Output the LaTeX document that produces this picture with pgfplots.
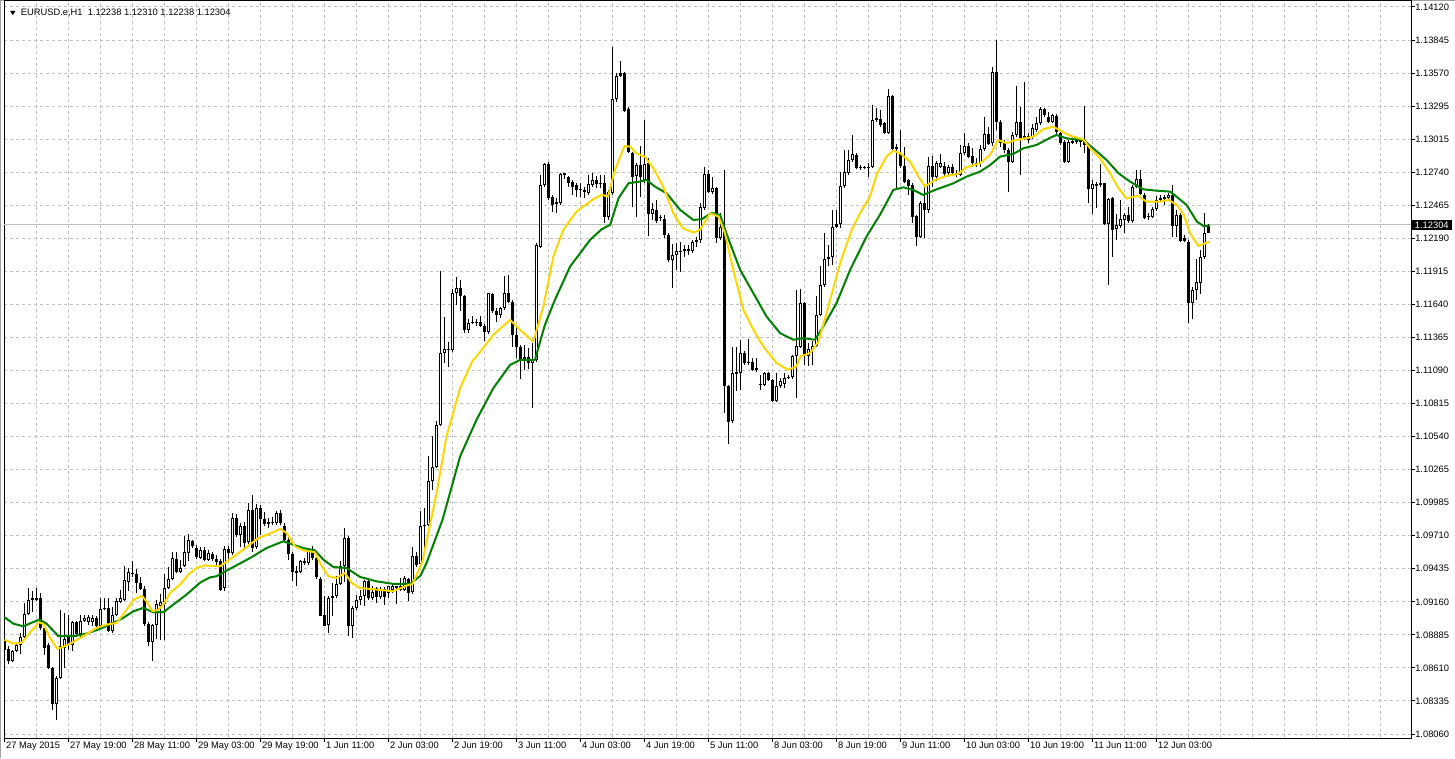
\documentclass[border=0pt]{standalone}
\usepackage{pgfplots}
\pgfplotsset{compat=1.18}
\usepackage{pgfplotstable}
\usepackage{fontspec}
\setmainfont{Liberation Sans}
\definecolor{maYellow}{HTML}{FFD700}
\definecolor{maGreen}{HTML}{008000}
\definecolor{gridgray}{HTML}{C0C0C0}
\definecolor{framegray}{HTML}{A0A0A0}

% bullish candles (white body)
\pgfplotstableread{
i O H L C
2 1.08670 1.08760 1.08660 1.08750
3 1.08750 1.08820 1.08740 1.08800
4 1.08800 1.08900 1.08730 1.08870
5 1.08870 1.09150 1.08860 1.09060
6 1.09060 1.09280 1.09050 1.09180
13 1.08310 1.08540 1.08180 1.08530
14 1.08530 1.09096 1.08520 1.08790
15 1.08780 1.09070 1.08610 1.08850
17 1.08800 1.09000 1.08750 1.08990
19 1.08890 1.09050 1.08870 1.09000
20 1.09000 1.09050 1.08990 1.09030
21 1.08990 1.09050 1.08970 1.09036
22 1.08990 1.09050 1.08958 1.09030
24 1.08960 1.09190 1.08940 1.09105
27 1.08920 1.09120 1.08900 1.09050
28 1.09050 1.09190 1.09040 1.09165
29 1.09160 1.09260 1.09150 1.09190
30 1.09180 1.09460 1.09170 1.09340
31 1.09330 1.09440 1.09250 1.09410
37 1.08830 1.08980 1.08670 1.08970
38 1.08970 1.09180 1.08850 1.09140
39 1.09130 1.09230 1.08840 1.09160
40 1.09140 1.09390 1.08840 1.09280
41 1.09280 1.09450 1.09270 1.09350
42 1.09350 1.09580 1.09340 1.09527
44 1.09410 1.09510 1.09400 1.09443
45 1.09460 1.09707 1.09450 1.09574
46 1.09570 1.09727 1.09500 1.09680
49 1.09530 1.09620 1.09520 1.09596
51 1.09510 1.09590 1.09500 1.09568
55 1.09280 1.09625 1.09250 1.09600
57 1.09570 1.09900 1.09550 1.09860
59 1.09720 1.09820 1.09620 1.09790
61 1.09660 1.09985 1.09640 1.09930
63 1.09620 1.09980 1.09600 1.09940
68 1.09820 1.09916 1.09800 1.09900
74 1.09410 1.09510 1.09400 1.09500
76 1.09486 1.09610 1.09470 1.09597
81 1.08970 1.09210 1.08900 1.09194
83 1.09208 1.09375 1.09190 1.09314
84 1.09310 1.09500 1.09300 1.09464
85 1.09460 1.09780 1.09330 1.09690
87 1.08958 1.09130 1.08860 1.09110
88 1.09110 1.09220 1.09097 1.09175
89 1.09175 1.09260 1.09139 1.09214
90 1.09208 1.09347 1.09125 1.09333
92 1.09194 1.09290 1.09180 1.09241
94 1.09203 1.09286 1.09186 1.09269
96 1.09236 1.09297 1.09194 1.09291
97 1.09264 1.09305 1.09236 1.09297
100 1.09264 1.09375 1.09250 1.09358
102 1.09240 1.09620 1.09230 1.09540
104 1.09479 1.09915 1.09460 1.09796
106 1.09804 1.10374 1.09790 1.10165
107 1.10165 1.10546 1.10096 1.10285
108 1.10285 1.10665 1.10276 1.10637
109 1.10637 1.11920 1.10624 1.11240
110 1.11240 1.11540 1.11150 1.11268
112 1.11262 1.11768 1.11248 1.11734
113 1.11734 1.11868 1.11637 1.11776
116 1.11429 1.11518 1.11401 1.11490
121 1.11407 1.11740 1.11396 1.11734
124 1.11554 1.11623 1.11526 1.11609
125 1.11609 1.11879 1.11595 1.11734
132 1.11151 1.11318 1.10776 1.11179
133 1.11180 1.12150 1.11160 1.12137
134 1.12123 1.12720 1.12110 1.12637
135 1.12637 1.12823 1.12620 1.12812
139 1.12490 1.12740 1.12470 1.12726
146 1.12573 1.12720 1.12554 1.12645
147 1.12637 1.12740 1.12623 1.12679
151 1.12373 1.12595 1.12345 1.12581
152 1.12573 1.13784 1.12554 1.13351
153 1.13351 1.13567 1.13331 1.13545
158 1.12712 1.12818 1.12373 1.12804
160 1.12680 1.13178 1.12650 1.12810
162 1.12395 1.12484 1.12345 1.12434
167 1.12012 1.12145 1.11776 1.12054
168 1.12054 1.12150 1.11930 1.12082
172 1.12082 1.12179 1.12068 1.12165
174 1.12179 1.12485 1.12151 1.12457
175 1.12443 1.12784 1.12429 1.12726
177 1.12582 1.12707 1.12560 1.12609
179 1.12193 1.12401 1.12179 1.12290
182 1.10666 1.11290 1.10650 1.11068
184 1.11068 1.11346 1.10930 1.11240
190 1.10971 1.11080 1.10960 1.11068
193 1.10832 1.11068 1.10824 1.10963
194 1.10963 1.11027 1.10943 1.10999
195 1.10979 1.11068 1.10943 1.11027
197 1.11032 1.11221 1.11019 1.11213
198 1.11213 1.11763 1.10860 1.11296
199 1.11290 1.11768 1.11276 1.11651
201 1.11207 1.11318 1.11130 1.11268
202 1.11263 1.11332 1.11138 1.11296
203 1.11296 1.11707 1.11290 1.11554
204 1.11554 1.11957 1.11546 1.11804
205 1.11804 1.12235 1.11785 1.12018
207 1.12040 1.12429 1.11971 1.12285
209 1.12312 1.12748 1.12276 1.12629
210 1.12629 1.12929 1.12609 1.12748
211 1.12740 1.12929 1.12721 1.12846
212 1.12846 1.13054 1.12832 1.12896
217 1.12784 1.13304 1.12776 1.13179
221 1.13073 1.13434 1.13065 1.13379
229 1.12206 1.12500 1.12192 1.12490
231 1.12428 1.12873 1.12406 1.12795
233 1.12700 1.12840 1.12670 1.12823
234 1.12790 1.12895 1.12780 1.12817
236 1.12734 1.12800 1.12720 1.12790
239 1.12720 1.12970 1.12710 1.12906
240 1.12906 1.13067 1.12890 1.12962
244 1.12817 1.12970 1.12790 1.12934
245 1.12934 1.13201 1.12923 1.13062
247 1.12984 1.13623 1.12962 1.13581
252 1.12831 1.13081 1.12817 1.13053
253 1.13053 1.13461 1.13040 1.13164
256 1.13012 1.13070 1.12990 1.13045
257 1.13039 1.13145 1.13020 1.13109
258 1.13095 1.13206 1.13080 1.13150
259 1.13150 1.13284 1.13140 1.13267
262 1.13164 1.13230 1.13150 1.13220
266 1.12831 1.13010 1.12820 1.12998
272 1.12600 1.12678 1.12395 1.12642
276 1.12312 1.12525 1.11803 1.12517
278 1.12267 1.12395 1.12178 1.12303
279 1.12295 1.12512 1.12280 1.12351
280 1.12345 1.12401 1.12234 1.12387
282 1.12337 1.12637 1.12320 1.12623
283 1.12623 1.12762 1.12610 1.12684
287 1.12373 1.12450 1.12360 1.12434
288 1.12434 1.12545 1.12420 1.12512
291 1.12525 1.12573 1.12510 1.12553
293 1.12295 1.12428 1.12206 1.12387
297 1.11651 1.11789 1.11517 1.11762
298 1.11762 1.12017 1.11679 1.11831
299 1.11817 1.12095 1.11728 1.12039
300 1.12039 1.12406 1.12020 1.12238
}\bull

% bearish and very small candles (filled body)
\pgfplotstableread{
i O H L C
0 1.08850 1.08890 1.08750 1.08760
1 1.08770 1.08790 1.08640 1.08670
7 1.09180 1.09250 1.09080 1.09190
8 1.09180 1.09280 1.09170 1.09190
9 1.09190 1.09235 1.08930 1.08940
10 1.08940 1.08960 1.08720 1.08780
11 1.08800 1.08820 1.08600 1.08610
12 1.08610 1.08620 1.08260 1.08310
16 1.08870 1.09050 1.08760 1.08800
18 1.08990 1.09000 1.08870 1.08890
23 1.09030 1.09040 1.08940 1.08960
25 1.09100 1.09190 1.09090 1.09110
26 1.09110 1.09190 1.08910 1.08920
32 1.09400 1.09500 1.09370 1.09390
33 1.09390 1.09435 1.09235 1.09320
34 1.09320 1.09370 1.09257 1.09270
35 1.09270 1.09290 1.08960 1.08980
36 1.08980 1.08990 1.08790 1.08830
43 1.09520 1.09575 1.09400 1.09410
47 1.09670 1.09680 1.09610 1.09624
48 1.09610 1.09638 1.09518 1.09532
50 1.09590 1.09620 1.09500 1.09513
52 1.09560 1.09580 1.09500 1.09520
53 1.09520 1.09550 1.09460 1.09490
54 1.09500 1.09520 1.09250 1.09260
56 1.09600 1.09630 1.09500 1.09570
58 1.09860 1.09890 1.09700 1.09720
60 1.09790 1.09830 1.09600 1.09650
62 1.09930 1.10055 1.09580 1.09610
64 1.09940 1.09970 1.09720 1.09850
65 1.09850 1.09910 1.09790 1.09810
66 1.09810 1.09860 1.09780 1.09830
67 1.09830 1.09870 1.09800 1.09820
69 1.09900 1.09930 1.09800 1.09820
70 1.09790 1.09820 1.09666 1.09680
71 1.09680 1.09700 1.09510 1.09564
72 1.09560 1.09580 1.09333 1.09410
73 1.09400 1.09460 1.09290 1.09416
75 1.09486 1.09527 1.09470 1.09500
77 1.09580 1.09625 1.09510 1.09527
78 1.09527 1.09540 1.09350 1.09370
79 1.09350 1.09370 1.09040 1.09047
80 1.09055 1.09208 1.08958 1.08964
82 1.09194 1.09320 1.09040 1.09208
86 1.09690 1.09710 1.08875 1.08958
91 1.09333 1.09350 1.09180 1.09194
93 1.09277 1.09286 1.09150 1.09203
95 1.09269 1.09286 1.09139 1.09203
98 1.09277 1.09297 1.09140 1.09297
99 1.09291 1.09360 1.09250 1.09264
101 1.09350 1.09360 1.09166 1.09236
103 1.09540 1.09580 1.09450 1.09470
105 1.09790 1.09940 1.09570 1.09804
111 1.11268 1.11330 1.11118 1.11262
114 1.11776 1.11845 1.11582 1.11712
115 1.11712 1.11720 1.11401 1.11429
117 1.11484 1.11545 1.11476 1.11498
118 1.11490 1.11518 1.11457 1.11498
119 1.11498 1.11545 1.11451 1.11457
120 1.11462 1.11479 1.11332 1.11407
122 1.11729 1.11740 1.11568 1.11582
123 1.11582 1.11609 1.11498 1.11554
126 1.11734 1.11887 1.11651 1.11665
127 1.11665 1.11679 1.11290 1.11387
128 1.11387 1.11457 1.11193 1.11284
129 1.11284 1.11304 1.11018 1.11179
130 1.11201 1.11304 1.11096 1.11179
131 1.11201 1.11276 1.11101 1.11151
136 1.12812 1.12831 1.12512 1.12526
137 1.12540 1.12554 1.12415 1.12470
138 1.12476 1.12526 1.12401 1.12498
140 1.12734 1.12740 1.12684 1.12720
141 1.12706 1.12712 1.12623 1.12656
142 1.12665 1.12679 1.12554 1.12623
143 1.12637 1.12651 1.12540 1.12595
144 1.12595 1.12650 1.12540 1.12600
145 1.12595 1.12623 1.12526 1.12581
148 1.12679 1.12712 1.12609 1.12645
149 1.12651 1.12720 1.12609 1.12656
150 1.12656 1.12720 1.12318 1.12373
154 1.13545 1.13673 1.13540 1.13567
155 1.13567 1.13581 1.13248 1.13256
156 1.13267 1.13290 1.12901 1.12915
157 1.12900 1.12915 1.12457 1.12706
159 1.12804 1.12962 1.12540 1.12706
161 1.12820 1.12860 1.12207 1.12395
163 1.12429 1.12512 1.12323 1.12332
164 1.12368 1.12387 1.12332 1.12359
165 1.12351 1.12387 1.12193 1.12221
166 1.12221 1.12234 1.11998 1.12007
169 1.12082 1.12165 1.11915 1.12090
170 1.12082 1.12137 1.12040 1.12101
171 1.12101 1.12137 1.12054 1.12082
173 1.12165 1.12200 1.12120 1.12180
176 1.12726 1.12762 1.12568 1.12582
178 1.12609 1.12623 1.12151 1.12193
180 1.12280 1.12760 1.10735 1.10957
181 1.10963 1.10970 1.10480 1.10657
183 1.11063 1.11290 1.10920 1.11074
185 1.11240 1.11250 1.11138 1.11152
186 1.11157 1.11352 1.11138 1.11152
187 1.11157 1.11193 1.11090 1.11096
188 1.11091 1.11193 1.11074 1.11110
189 1.10971 1.11054 1.10930 1.10979
191 1.11068 1.11080 1.11000 1.11013
192 1.11013 1.11020 1.10824 1.10832
196 1.11027 1.11054 1.11019 1.11040
200 1.11651 1.11657 1.11138 1.11207
206 1.12018 1.12137 1.11957 1.12040
208 1.12290 1.12429 1.12276 1.12312
213 1.12887 1.12901 1.12768 1.12776
214 1.12776 1.12804 1.12762 1.12784
215 1.12784 1.12795 1.12768 1.12790
216 1.12784 1.12818 1.12707 1.12790
218 1.13179 1.13276 1.13165 1.13193
219 1.13184 1.13262 1.13123 1.13137
220 1.13151 1.13165 1.13062 1.13073
222 1.13379 1.13387 1.12920 1.12934
223 1.12934 1.12980 1.12600 1.12956
224 1.12900 1.13095 1.12780 1.12795
225 1.12795 1.12956 1.12650 1.12664
226 1.12678 1.12690 1.12553 1.12628
227 1.12637 1.12650 1.12323 1.12373
228 1.12378 1.12390 1.12128 1.12206
230 1.12490 1.12623 1.12192 1.12428
232 1.12795 1.12878 1.12620 1.12700
235 1.12795 1.12831 1.12706 1.12728
237 1.12790 1.12810 1.12720 1.12734
238 1.12740 1.12762 1.12706 1.12728
241 1.12962 1.12984 1.12859 1.12867
242 1.12878 1.12942 1.12790 1.12823
243 1.12809 1.12859 1.12790 1.12823
246 1.13062 1.13117 1.12970 1.12978
248 1.13581 1.13845 1.13095 1.13164
249 1.13164 1.13178 1.12956 1.12984
250 1.12984 1.13012 1.12901 1.12928
251 1.12928 1.12942 1.12581 1.12831
254 1.13164 1.13289 1.12720 1.13025
255 1.13025 1.13498 1.13010 1.13045
260 1.13267 1.13280 1.13200 1.13220
261 1.13201 1.13248 1.13150 1.13164
263 1.13212 1.13230 1.13060 1.13081
264 1.13067 1.13080 1.12970 1.12989
265 1.12998 1.13011 1.12817 1.12831
267 1.12990 1.13025 1.12980 1.13006
268 1.13011 1.13025 1.12980 1.12998
269 1.12998 1.13030 1.12956 1.13017
270 1.13011 1.13295 1.12900 1.12970
271 1.12970 1.12984 1.12484 1.12600
273 1.12642 1.12664 1.12442 1.12631
274 1.12637 1.12812 1.12620 1.12650
275 1.12650 1.12656 1.12300 1.12312
277 1.12525 1.12539 1.12039 1.12262
281 1.12387 1.12456 1.12320 1.12337
284 1.12684 1.12762 1.12550 1.12562
285 1.12553 1.12569 1.12351 1.12359
286 1.12378 1.12400 1.12345 1.12367
289 1.12512 1.12550 1.12500 1.12525
290 1.12539 1.12550 1.12470 1.12517
292 1.12553 1.12637 1.12206 1.12295
294 1.12387 1.12401 1.12164 1.12173
295 1.12192 1.12220 1.12160 1.12173
296 1.12164 1.12178 1.11484 1.11651
301 1.12238 1.12310 1.12238 1.12304
}\filled

\pgfplotsset{
  wick/.style={draw=none, mark=none, forget plot,
    error bars/.cd, y dir=plus, y explicit, error mark=none,
    error bar style={draw=black, line width=0.75pt, line cap=butt}},
  body/.style={draw=none, mark=none, forget plot,
    error bars/.cd, y dir=plus, y explicit, error mark=none,
    error bar style={draw=black, line width=2.25pt, line cap=butt}},
  inner/.style={draw=none, mark=none, forget plot,
    error bars/.cd, y dir=plus, y explicit, error mark=none,
    error bar style={draw=white, line width=0.75pt, line cap=butt}},
}

\begin{document}
\begin{tikzpicture}
\fill[white] (0,0) rectangle (1091.25pt,568.5pt);
\path[use as bounding box] (0,0) rectangle (1091.25pt,568.5pt);
\draw[framegray, line width=0.75pt] (0.375pt,0) -- (0.375pt,568.5pt);
\draw[framegray, line width=0.75pt] (0,568.1pt) -- (1091.25pt,568.1pt);
\begin{axis}[
  at={(3pt,15pt)}, anchor=south west,
  scale only axis, width=1055.25pt, height=552.75pt,
  xmin=-0.125, xmax=351.625, ymin=1.080267, ymax=1.141700,
  clip mode=individual,
  axis line style={black, line width=0.75pt},
  scaled y ticks=false, scaled x ticks=false,
  tick align=outside,
  major tick length=3pt,
  tick style={black, line width=0.75pt},
  xtick={0,8,...,344},
  xticklabels={},
  xtick style={draw=none},
  extra x ticks={0,16,...,288},
  extra x tick labels={27 May 2015,27 May 19:00,28 May 11:00,29 May 03:00,29 May 19:00,1 Jun 11:00,2 Jun 03:00,2 Jun 19:00,3 Jun 11:00,4 Jun 03:00,4 Jun 19:00,5 Jun 11:00,8 Jun 03:00,8 Jun 19:00,9 Jun 11:00,10 Jun 03:00,10 Jun 19:00,11 Jun 11:00,12 Jun 03:00},
  extra x tick style={grid=none, xtick style={draw=black}},
  xticklabel style={anchor=north west, inner sep=0pt, xshift=1pt},
  ytick={1.0806000,1.0833545,1.0861091,1.0888636,1.0916182,1.0943727,1.0971273,1.0998818,1.1026364,1.1053909,1.1081455,1.1109000,1.1136545,1.1164091,1.1191636,1.1219182,1.1246727,1.1274273,1.1301818,1.1329364,1.1356909,1.1384455,1.1412000},
  yticklabels={1.08060,1.08335,1.08610,1.08885,1.09160,1.09435,1.09710,1.09985,1.10265,1.10540,1.10815,1.11090,1.11365,1.11640,1.11915,1.12190,1.12465,1.12740,1.13015,1.13295,1.13570,1.13845,1.14120},
  ytick pos=right,
  yticklabel pos=right,
  yticklabel style={anchor=west, inner sep=0pt},
  tick label style={font=\fontsize{7pt}{8pt}\selectfont, text=black},
  grid=major,
  major grid style={draw=gridgray, line width=0.75pt, dash pattern=on 2.25pt off 2.25pt},
]
% current price line
\addplot[gridgray, line width=0.75pt, forget plot] coordinates {(-0.125,1.12304) (351.625,1.12304)};
% wicks
\addplot[wick] table[x=i, y=L, y error expr=\thisrow{H}-\thisrow{L}] {\bull};
\addplot[wick] table[x=i, y=L, y error expr=\thisrow{H}-\thisrow{L}] {\filled};
% bodies
\addplot[body] table[x=i, y=O, y error expr=\thisrow{C}-\thisrow{O}] {\bull};
\addplot[body] table[x=i, y expr={min(\thisrow{O},\thisrow{C})}, y error expr={abs(\thisrow{C}-\thisrow{O})}] {\filled};
\addplot[inner] table[x=i, y expr=\thisrow{O}+0.0000834, y error expr=\thisrow{C}-\thisrow{O}-0.0001668] {\bull};
% slow moving average (green)
\addplot[maGreen, line width=1.5pt, line join=round] coordinates {
(0,1.09033) (2.2,1.08980) (4.7,1.08958) (8.7,1.09014) (10.5,1.08980) (13.5,1.08875) (17.2,1.08875) (20.5,1.08897) (23.9,1.08936) (27.2,1.08986) (29.7,1.09028) (32.2,1.09083) (34.7,1.09111) (37.2,1.09075) (39.7,1.09075) (42.2,1.09139) (45.5,1.09222) (48.9,1.09322) (51.4,1.09366) (53,1.09375) (57.2,1.09452) (61.4,1.09527) (65.5,1.09610) (69.7,1.09666) (72.2,1.09638) (74.7,1.09610) (77.6,1.09591) (79.7,1.09514) (82.2,1.09452) (85.5,1.09444) (88.9,1.09369) (93,1.09333) (97.2,1.09311) (101.4,1.09311) (104,1.09380) (105.5,1.09485) (109.5,1.09846) (113.9,1.10374) (118,1.10679) (122.2,1.10943) (126.4,1.11137) (128.9,1.11179) (132.6,1.11179) (135.1,1.11470) (137.6,1.11679) (141.4,1.11957) (146.4,1.12179) (149.3,1.12268) (151.4,1.12304) (153.5,1.12526) (156,1.12651) (158.9,1.12665) (160.5,1.12679) (162.6,1.12623) (165.5,1.12568) (168.9,1.12429) (172.2,1.12345) (174.3,1.12351) (176.8,1.12404) (178.9,1.12387) (180.5,1.12230) (183.9,1.11929) (187.2,1.11735) (190.5,1.11540) (193.9,1.11401) (197.2,1.11346) (199.7,1.11360) (202.6,1.11346) (204.7,1.11457) (208,1.11651) (211.4,1.11929) (215.5,1.12207) (218.9,1.12390) (222.2,1.12595) (224.7,1.12617) (227.2,1.12595) (229.7,1.12553) (232.6,1.12595) (237.2,1.12650) (240.5,1.12706) (243.9,1.12748) (246.4,1.12803) (248.9,1.12873) (252.2,1.12895) (254.7,1.12942) (258,1.12970) (261.4,1.13030) (263,1.13053) (265.5,1.13025) (269.7,1.13011) (272.2,1.12942) (275.5,1.12845) (278.5,1.12734) (281.4,1.12664) (284.7,1.12600) (288,1.12589) (291.4,1.12581) (293,1.12539) (295.5,1.12470) (298.1,1.12331) (299.7,1.12295) (301.4,1.12295)
};
% fast moving average (yellow)
\addplot[maYellow, line width=1.5pt, line join=round] coordinates {
(0,1.08847) (2.2,1.08814) (4.3,1.08820) (6.4,1.08908) (8.7,1.08991) (9.7,1.08978) (11.4,1.08860) (13.2,1.08770) (15.1,1.08792) (16.8,1.08820) (19.7,1.08875) (23,1.08944) (25.5,1.08972) (28,1.08986) (30.1,1.09075) (32.2,1.09175) (34.3,1.09214) (35.5,1.09166) (37,1.09083) (38.5,1.09097) (39.7,1.09139) (41.4,1.09236) (43.9,1.09305) (46,1.09389) (48,1.09444) (50,1.09465) (53.9,1.09458) (56.8,1.09527) (59.7,1.09597) (63.5,1.09694) (66.8,1.09736) (68.9,1.09769) (70.5,1.09736) (72.6,1.09625) (74.7,1.09591) (77.6,1.09575) (79.3,1.09458) (81,1.09375) (83,1.09361) (85.1,1.09402) (86.8,1.09319) (88.9,1.09277) (93,1.09264) (97.2,1.09250) (100.5,1.09297) (102,1.09310) (104.5,1.09500) (108,1.10068) (110.5,1.10540) (113.9,1.10943) (116.9,1.11165) (119.3,1.11262) (122.2,1.11387) (126.4,1.11512) (129.3,1.11415) (132.2,1.11332) (134.7,1.11620) (137.2,1.12040) (139.7,1.12262) (143,1.12415) (147.2,1.12518) (149.3,1.12554) (150.9,1.12540) (152.6,1.12762) (155,1.12962) (156.4,1.12956) (158,1.12901) (160.1,1.12873) (162.2,1.12776) (164.7,1.12623) (167.2,1.12401) (169.6,1.12276) (172.2,1.12240) (173.9,1.12262) (176.4,1.12401) (178.5,1.12373) (180.1,1.12235) (182.2,1.11929) (184.7,1.11596) (187.2,1.11430) (189.7,1.11290) (193,1.11152) (195.9,1.11096) (198,1.11124) (198.9,1.11207) (201.4,1.11235) (203.5,1.11332) (205.5,1.11568) (208.9,1.11985) (211.8,1.12262) (213.9,1.12401) (216.4,1.12540) (218,1.12721) (220.5,1.12873) (222.2,1.12923) (223.9,1.12901) (226.4,1.12831) (228.5,1.12706) (230.1,1.12623) (232.6,1.12678) (235.5,1.12712) (238.4,1.12728) (240.5,1.12784) (243.9,1.12817) (246.4,1.12887) (248.4,1.13012) (250.5,1.12984) (252.2,1.13006) (253.9,1.13017) (257.2,1.13039) (259.7,1.13101) (262.2,1.13123) (265.1,1.13067) (267.1,1.13040) (269.7,1.13017) (271.4,1.12942) (273.9,1.12859) (276.4,1.12734) (278.5,1.12609) (280.5,1.12525) (283.4,1.12545) (285.5,1.12498) (288.9,1.12498) (291,1.12512) (293.1,1.12470) (294.8,1.12387) (296.4,1.12234) (298.5,1.12128) (300.6,1.12156) (301.3,1.12164)
};
% current price box
\node[fill=black, text=white, anchor=west, inner sep=0pt, minimum width=30.75pt, minimum height=7.5pt, font=\fontsize{7pt}{8pt}\selectfont] at (axis cs:351.625,1.12304) {1.12304};
\end{axis}
\fill[black] (7.5pt,560.4pt) -- (11.7pt,560.4pt) -- (9.6pt,557.1pt) -- cycle;
\node[anchor=west, inner sep=0pt, font=\fontsize{7pt}{8pt}\selectfont] at (15.5pt,559pt) {EURUSD.e,H1\ \ 1.12238 1.12310 1.12238 1.12304};
\end{tikzpicture}
\end{document}
